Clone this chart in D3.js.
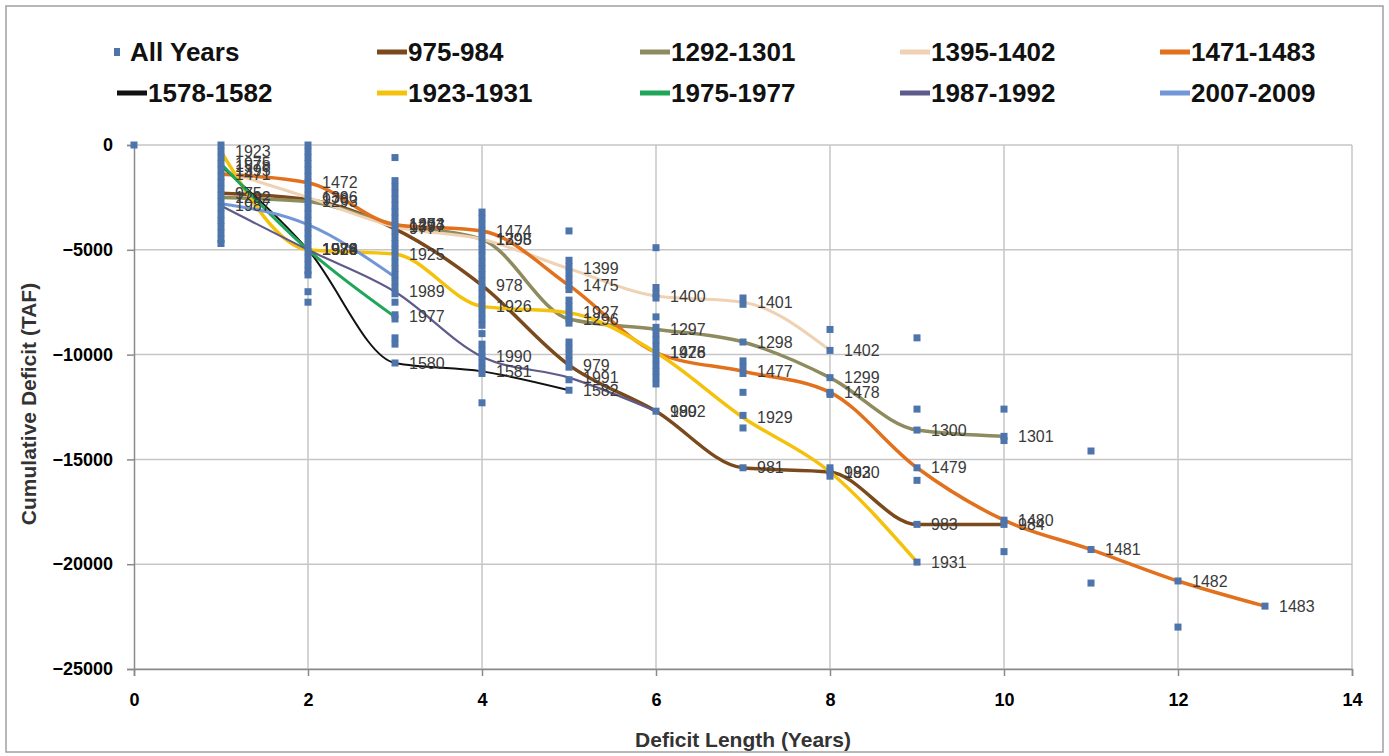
<!DOCTYPE html>
<html>
<head>
<meta charset="utf-8">
<script src="https://cdn.jsdelivr.net/npm/d3@7"></script>
<style>
  body { margin: 0; background: #fff; }
  svg { font-family: "Liberation Sans", Arial, sans-serif; }
</style>
</head>
<body>
<script>
// deficit length (years) -> cumulative deficit (TAF), one row per length
var allYears = [
  [0],
  [0,-300,-600,-900,-1200,-1500,-1800,-2100,-2400,-2700,-3000,-3300,-3600,-3900,-4200,-4500,-4700],
  [0,-300,-600,-900,-1200,-1500,-1800,-2100,-2400,-2700,-3000,-3300,-3600,-3900,-4200,-4500,-4800,-5100,-5400,-5700,-6000,-6200,-7000,-7500],
  [-600,-1700,-2000,-2300,-2600,-2900,-3200,-3500,-3800,-4100,-4400,-4700,-5000,-5300,-5600,-5900,-6200,-6500,-6800,-7100,-7500,-8100,-8300,-9200,-9500,-10400],
  [-3200,-3500,-3800,-4100,-4400,-4700,-5000,-5300,-5600,-5900,-6200,-6500,-6800,-7100,-7400,-7700,-8000,-8300,-8600,-9000,-9500,-9800,-10100,-10400,-10700,-10900,-12300],
  [-4100,-5500,-5800,-6100,-6400,-6700,-6900,-7400,-7700,-8000,-8300,-8500,-9400,-9700,-10000,-10300,-10600,-11200,-11700],
  [-4900,-6800,-7100,-7300,-8200,-8700,-9000,-9300,-9600,-9900,-10200,-10500,-10800,-11100,-11400,-12700],
  [-7300,-7600,-9400,-10300,-10600,-10900,-11800,-12900,-13500,-15400],
  [-8800,-9800,-11100,-11800,-11900,-15400,-15600,-15800],
  [-9200,-12600,-13600,-15400,-16000,-18100,-19900],
  [-12600,-13900,-14100,-17900,-18100,-19400],
  [-14600,-19300,-20900],
  [-20800,-23000],
  [-22000]
];

var seriesNames = ["975-984","1292-1301","1395-1402","1471-1483","1578-1582","1923-1931","1975-1977","1987-1992","2007-2009"];
var startYears  = [975, 1292, 1395, 1471, 1578, 1923, 1975, 1987, 2007];
var showLabels  = [true, true, true, true, true, true, true, true, false];

var d975  = [-2300,-2600,-4000,-6700,-10500,-12700,-15400,-15600,-18100,-18100];
var d1292 = [-2500,-2700,-3800,-4500,-8300,-8800,-9400,-11100,-13600,-13900];
var d1395 = [-1200,-2500,-3900,-4500,-5900,-7200,-7500,-9800];
var d1471 = [-1400,-1800,-3800,-4100,-6700,-9900,-10800,-11800,-15400,-17900,-19300,-20800,-22000];
var d1578 = [-1000,-5000,-10400,-10800,-11700];
var d1923 = [-300,-5000,-5200,-7700,-8000,-9900,-13000,-15600,-19900];
var d1975 = [-900,-5000,-8200];
var d1987 = [-2900,-5000,-7000,-10100,-11100,-12700];
var d2007 = [-2800,-3800,-6300];
var seriesValues = [d975, d1292, d1395, d1471, d1578, d1923, d1975, d1987, d2007];

var xTicks = [0,2,4,6,8,10,12,14];
var yTicks = [0,-5000,-10000,-15000,-20000,-25000];

var colors = ["#7a4a1c","#8e8c5e","#efd2b4","#e2711d","#111111","#f4c20d","#20a659","#5e5b8c","#7396d6"];
var widths = [3.5,3.5,3,3.5,2,3.5,3,2.2,3];
var dotColor = "#4d74ab";

var width = 1389, height = 756;
var svg = d3.select("body").append("svg")
  .attr("width", width)
  .attr("height", height);

svg.append("rect")
  .attr("x", 6).attr("y", 6)
  .attr("width", width - 12).attr("height", height - 10)
  .attr("fill", "#fff")
  .attr("stroke", "#a0a0a0")
  .attr("stroke-width", 1.5);

var x = d3.scaleLinear().domain([0, 14]).range([134, 1352]);
var y = d3.scaleLinear().domain([-25000, 0]).range([669, 145]);

// grid
svg.selectAll(".hgrid").data(yTicks).enter().append("line")
  .attr("x1", x(0)).attr("x2", x(14))
  .attr("y1", function (d) { return y(d); })
  .attr("y2", function (d) { return y(d); })
  .attr("stroke", "#c6c6c6").attr("stroke-width", 1.5);

svg.selectAll(".vgrid").data(xTicks.slice(1)).enter().append("line")
  .attr("x1", function (d) { return x(d); })
  .attr("x2", function (d) { return x(d); })
  .attr("y1", y(0)).attr("y2", y(-25000))
  .attr("stroke", "#c6c6c6").attr("stroke-width", 1.5);

// axes
var yAxis = svg.append("g")
  .attr("transform", "translate(" + x(0) + ",0)")
  .call(d3.axisLeft(y).tickValues(yTicks).tickSize(7).tickPadding(14).tickFormat(d3.format("d")));
var xAxis = svg.append("g")
  .attr("transform", "translate(0," + y(-25000) + ")")
  .call(d3.axisBottom(x).tickValues(xTicks).tickSize(7).tickPadding(14).tickFormat(d3.format("d")));

[xAxis, yAxis].forEach(function (g) {
  g.select(".domain").attr("stroke", "#8a8a8a").attr("stroke-width", 1.5);
  g.selectAll(".tick line").attr("stroke", "#8a8a8a").attr("stroke-width", 1.5);
  g.selectAll(".tick text")
    .attr("fill", "#000")
    .style("font-family", "'Liberation Sans', Arial, sans-serif")
    .style("font-size", "18px")
    .style("font-weight", "bold");
});
xAxis.selectAll(".tick text").attr("dy", "0.9em");

svg.append("text")
  .attr("x", 743).attr("y", 747)
  .attr("text-anchor", "middle")
  .style("font-size", "21px").style("font-weight", "bold")
  .attr("fill", "#333")
  .text("Deficit Length (Years)");

svg.append("text")
  .attr("transform", "translate(36,404) rotate(-90)")
  .attr("text-anchor", "middle")
  .style("font-size", "21px").style("font-weight", "bold")
  .attr("fill", "#333")
  .text("Cumulative Deficit (TAF)");

// series lines
var line = d3.line()
  .x(function (d) { return x(d.len); })
  .y(function (d) { return y(d.val); })
  .curve(d3.curveMonotoneX);

var series = seriesNames.map(function (name, i) {
  return {
    name: name,
    color: colors[i],
    width: widths[i],
    labelled: showLabels[i],
    points: seriesValues[i].map(function (v, j) {
      return { len: j + 1, val: v, year: startYears[i] + j };
    })
  };
});

svg.selectAll(".series").data(series).enter().append("path")
  .attr("d", function (d) { return line(d.points); })
  .attr("fill", "none")
  .attr("stroke", function (d) { return d.color; })
  .attr("stroke-width", function (d) { return d.width; })
  .attr("stroke-linejoin", "round");

// all years scatter
var dots = [];
allYears.forEach(function (vals, len) {
  vals.forEach(function (v) { dots.push({ len: len, val: v }); });
});
svg.selectAll(".dot").data(dots).enter().append("rect")
  .attr("x", function (d) { return x(d.len) - 3.5; })
  .attr("y", function (d) { return y(d.val) - 3.5; })
  .attr("width", 7).attr("height", 7)
  .attr("fill", dotColor);

// year labels
var labels = [];
series.forEach(function (s) { if (s.labelled) labels = labels.concat(s.points); });
svg.selectAll(".lbl").data(labels).enter().append("text")
  .attr("x", function (d) { return x(d.len) + 14; })
  .attr("y", function (d) { return y(d.val); })
  .attr("dy", "0.35em")
  .style("font-size", "16px")
  .attr("fill", "#3a3a3a")
  .text(function (d) { return d.year; });

// legend
var legendItems = [{ name: "All Years", dot: true }].concat(series);
var legendCols = [117, 377, 640, 900, 1160];
var legend = svg.selectAll(".leg").data(legendItems).enter().append("g")
  .attr("transform", function (d, i) {
    return "translate(" + legendCols[i % 5] + "," + (i < 5 ? 52 : 93) + ")";
  });
legend.each(function (d) {
  var g = d3.select(this);
  if (d.dot) {
    g.append("rect").attr("x", -3).attr("y", -4).attr("width", 6).attr("height", 8).attr("fill", dotColor);
    g.append("text").attr("x", 13).attr("dy", "0.36em")
      .style("font-size", "26px").style("font-weight", "bold").attr("fill", "#111")
      .text(d.name);
  } else {
    g.append("line").attr("x1", 0).attr("x2", 30)
      .attr("stroke", d.color).attr("stroke-width", 5);
    g.append("text").attr("x", 31).attr("dy", "0.36em")
      .style("font-size", "26px").style("font-weight", "bold").attr("fill", "#111")
      .text(d.name);
  }
});
</script>
</body>
</html>
